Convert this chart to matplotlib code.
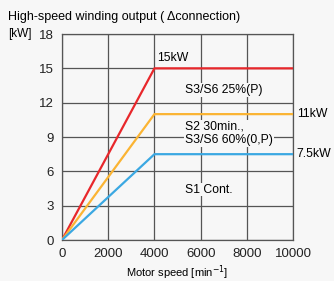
import matplotlib
matplotlib.use("Agg")
import matplotlib.pyplot as plt

plt.rcParams['font.family'] = ['Liberation Sans', 'DejaVu Sans']

# speed breakpoints [min^-1] and output [kW]
speed = [0, 4000, 10000]
s3_25 = [0, 15, 15]
s2_30 = [0, 11, 11]
s1_cont = [0, 7.5, 7.5]

x_ticks = [0, 2000, 4000, 6000, 8000, 10000]
y_ticks = [0, 3, 6, 9, 12, 15, 18]

fig = plt.figure(figsize=(3.34, 2.81), dpi=100, facecolor="#f7f7f7")
ax = fig.add_axes([0.1856, 0.1459, 0.692, 0.733])
ax.set_facecolor("#f7f7f7")

ax.plot(speed, s3_25, color="#e8272b", lw=1.6, zorder=3)
ax.plot(speed, s2_30, color="#fbb433", lw=1.6, zorder=3)
ax.plot(speed, s1_cont, color="#3ba8e2", lw=1.6, zorder=3)

ax.set_xlim(0, 10000)
ax.set_ylim(0, 18)
ax.set_xticks(x_ticks)
ax.set_yticks(y_ticks)
ax.grid(True, color="#555555", lw=0.9)
ax.tick_params(length=0, labelsize=9.5, pad=6, colors="#222222")
for s in ax.spines.values():
    s.set_color("#555555")
    s.set_linewidth(0.9)

fs = 8.8
box = dict(facecolor="#f7f7f7", edgecolor="none", pad=0.5)
ax.text(4100, 15.9, "15kW", fontsize=fs, ha="left", va="center", bbox=box, zorder=4)
ax.text(5320, 13.1, "S3/S6 25%(P)", fontsize=fs, ha="left", va="center", bbox=box, zorder=4)
ax.text(5320, 9.3, "S2 30min.,\nS3/S6 60%(0,P)", fontsize=fs, ha="left", va="center",
        linespacing=1.15, bbox=box, zorder=4)
ax.text(5320, 4.4, "S1 Cont.", fontsize=fs, ha="left", va="center", bbox=box, zorder=4)
ax.text(10170, 11, "11kW", fontsize=fs, ha="left", va="center", clip_on=False)
ax.text(10150, 7.5, "7.5kW", fontsize=fs, ha="left", va="center", clip_on=False)

ax.set_xlabel("Motor speed [min$^{-1}$]", fontsize=8, labelpad=2)
fig.text(0.024, 0.94, "High-speed winding output ( \u0394connection)", fontsize=9, va="center")
fig.text(0.024, 0.88, "[kW]", fontsize=8.5, va="center")

fig.savefig("out.png", dpi=100, facecolor=fig.get_facecolor())
